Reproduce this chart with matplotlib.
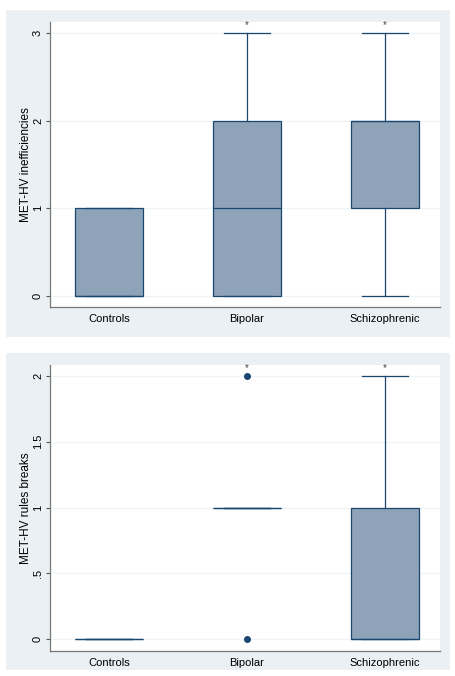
import matplotlib
matplotlib.use("Agg")
import matplotlib.pyplot as plt
from matplotlib.patches import Rectangle

plt.rcParams['font.family'] = ['Liberation Sans', 'DejaVu Sans']

groups = ['Controls', 'Bipolar', 'Schizophrenic']

# MET-HV inefficiencies: box summaries per group
ineff_q1 = [0, 0, 1]
ineff_med = [0, 1, 2]
ineff_q3 = [1, 2, 2]
ineff_lo = [0, 0, 0]
ineff_hi = [1, 3, 3]
ineff_out = [[], [], []]
ineff_ticks = [0, 1, 2, 3]
ineff_ticklabels = ['0', '1', '2', '3']

# MET-HV rules breaks
rules_q1 = [0, 1, 0]
rules_med = [0, 1, 0]
rules_q3 = [0, 1, 1]
rules_lo = [0, 1, 0]
rules_hi = [0, 1, 2]
rules_out = [[], [0, 2], []]
rules_ticks = [0, 0.5, 1, 1.5, 2]
rules_ticklabels = ['0', '.5', '1', '1.5', '2']

signif = [False, True, True]

box_fill = '#8fa3b8'
navy = '#1a476f'
panel_bg = '#eaf0f3'
grid_col = '#eef3f5'

W, H = 455, 676
fig = plt.figure(figsize=(W / 100, H / 100), dpi=100)
fig.patch.set_facecolor('white')

# panel backgrounds (pixel coords -> figure fraction)
for y0, y1 in [(10, 337), (353, 670)]:
    fig.patches.append(Rectangle((6 / W, 1 - y1 / H), 444 / W, (y1 - y0) / H,
                                 transform=fig.transFigure, facecolor=panel_bg,
                                 edgecolor='none', zorder=-1))


def make_stats(q1, med, q3, lo, hi, out):
    return [dict(q1=a, med=b, q3=c, whislo=d, whishi=e, fliers=f)
            for a, b, c, d, e, f in zip(q1, med, q3, lo, hi, out)]


def draw(ax, stats, ticks, ticklabels, ylim, ylabel, star_y):
    ax.set_facecolor('white')
    lw = 0.9
    ax.bxp(stats, positions=[1, 2, 3], widths=0.49, patch_artist=True,
           boxprops=dict(facecolor=box_fill, edgecolor=navy, linewidth=lw),
           medianprops=dict(color=navy, linewidth=lw),
           whiskerprops=dict(color=navy, linewidth=lw),
           capprops=dict(color=navy, linewidth=lw),
           flierprops=dict(marker='o', markerfacecolor=navy, markeredgecolor=navy,
                           markersize=4),
           capwidths=0.33, zorder=3)
    ax.set_xlim(0.572, 3.40)
    ax.set_ylim(*ylim)
    ax.set_yticks(ticks)
    ax.set_yticklabels(ticklabels, rotation=90, va='center')
    ax.set_xticks([1, 2, 3])
    ax.set_xticklabels(groups)
    ax.tick_params(axis='both', labelsize=8, color='#555555', length=3, width=0.8)
    ax.tick_params(axis='y', pad=2)
    ax.tick_params(axis='x', length=0, pad=5)
    ax.set_ylabel(ylabel, fontsize=8.5, labelpad=1)
    for s in ['top', 'right']:
        ax.spines[s].set_visible(False)
    for s in ['left', 'bottom']:
        ax.spines[s].set_color('#777777')
        ax.spines[s].set_linewidth(0.9)
    for t in ticks:
        ax.axhline(t, color=grid_col, linewidth=0.9, zorder=1)
    for i, flag in enumerate(signif):
        if flag:
            ax.text(i + 1, star_y, '*', ha='center', va='center', fontsize=7,
                    color='#444444')


ax1 = fig.add_axes([50 / W, 1 - 307 / H, 390 / W, 285 / H])
draw(ax1, make_stats(ineff_q1, ineff_med, ineff_q3, ineff_lo, ineff_hi, ineff_out),
     ineff_ticks, ineff_ticklabels, (-0.125, 3.125), 'MET-HV inefficiencies', 3.085)

ax2 = fig.add_axes([50 / W, 1 - 651 / H, 390 / W, 286 / H])
draw(ax2, make_stats(rules_q1, rules_med, rules_q3, rules_lo, rules_hi, rules_out),
     rules_ticks, rules_ticklabels, (-0.091, 2.084), 'MET-HV rules breaks', 2.062)

fig.savefig('out.png', dpi=100)
